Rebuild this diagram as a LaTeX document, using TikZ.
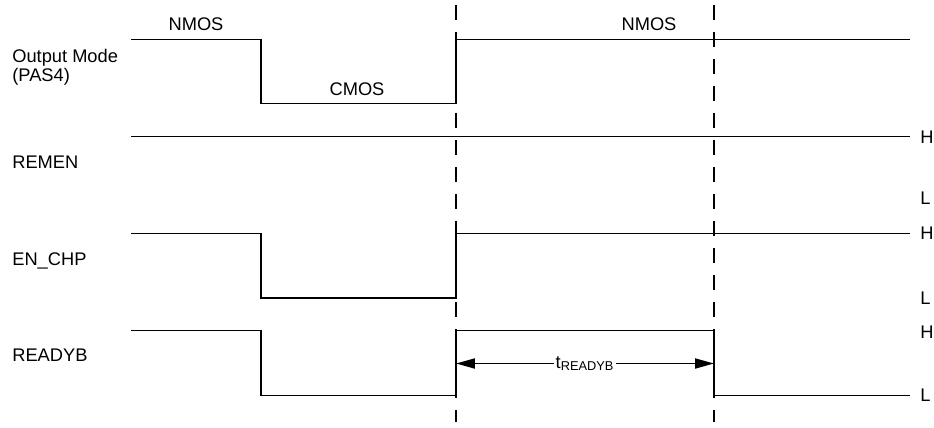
\documentclass[tikz,border=0pt]{standalone}
\usepackage{fontspec}
\setmainfont{Liberation Sans}
\usetikzlibrary{arrows.meta}
\tikzset{
  semnal/.style  = {line width=1.1pt, line join=miter},
  ghid/.style    = {line width=1.1pt, dash pattern=on 3mm off 2.4mm},
  nume/.style    = {anchor=base west, inner sep=0pt, align=left,
                    font=\fontsize{10.4}{10.6}\selectfont},
  nivel/.style   = {anchor=base west, inner sep=0pt,
                    font=\fontsize{10.4}{10.6}\selectfont},
  eticheta/.style = {anchor=base, inner sep=0pt,
                    font=\fontsize{10.4}{10.6}\selectfont},
  sageata/.style = {{Triangle[length=3.8mm, width=2mm]}-{Triangle[length=3.8mm, width=2mm]},
                    line width=1.1pt}
}
\begin{document}
\begin{tikzpicture}[x=0.02cm, y=-0.02cm]
  \useasboundingbox (0,0) rectangle (934,427);

  % liniile de ghidare
  \coordinate (g1sus) at (456,5);
  \coordinate (g1jos) at (456,422);
  \coordinate (g2sus) at (714,5);
  \coordinate (g2jos) at (714,422);
  \draw[ghid] (g1sus) -- (g1jos);
  \draw[ghid] (g2sus) -- (g2jos);

  % numele semnalelor
  \node[nume] (mod)   at (12,81.5)  {Output Mode\\(PAS4)};
  \node[nume] (remen) at (12,168)   {REMEN};
  \node[nume] (enchp) at (12,265.7) {EN\_CHP};
  \node[nume] (ready) at (12,361.7) {READYB};

  % nivelurile H si L
  \node[nivel] (h1) at (920,143.5) {H};
  \node[nivel] (l1) at (920,204.5) {L};
  \node[nivel] (h2) at (920,239.5) {H};
  \node[nivel] (l2) at (920,304.5) {L};
  \node[nivel] (h3) at (920,338.5) {H};
  \node[nivel] (l3) at (920,401.5) {L};

  % formele de unda
  \draw[semnal] (131,39.5) -- (261,39.5) -- (261,103.5) -- (456,103.5)
                -- (456,39.5) -- (910,39.5);
  \draw[semnal] (131,136.5) -- (910,136.5);
  \draw[semnal] (131,233.5) -- (261,233.5) -- (261,298) -- (456,298)
                -- (456,233.5) -- (910,233.5);
  \draw[semnal] (131,330.5) -- (261,330.5) -- (261,395.5) -- (456,395.5)
                -- (456,330.5) -- (714,330.5) -- (714,395.5) -- (910,395.5);

  % modurile de iesire
  \node[eticheta] (nmos1) at (196,30) {NMOS};
  \node[eticheta] (cmos)  at (357,95) {CMOS};
  \node[eticheta] (nmos2) at (649,30) {NMOS};

  % intervalul tREADYB
  \coordinate (t1) at (456,363.5);
  \coordinate (t2) at (714,363.5);
  \draw[sageata] (t1) -- node[fill=white, inner sep=1pt,
        font=\fontsize{10.4}{10.6}\selectfont] (tready) {t\textsubscript{READYB}} (t2);
\end{tikzpicture}
\end{document}
